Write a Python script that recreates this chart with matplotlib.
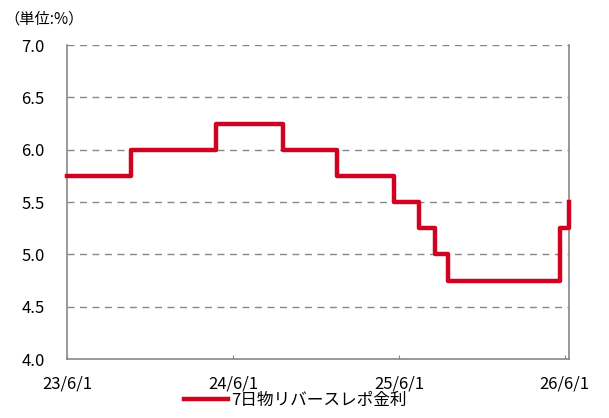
import numpy as np
import matplotlib.pyplot as plt
import matplotlib.dates as mdates
from matplotlib.ticker import FuncFormatter

plt.rcParams['font.family'] = ['Noto Sans CJK JP', 'DejaVu Sans']

# 政策金利の変更日と水準
change_dates = ['2023-06-01', '2023-10-19', '2024-04-24', '2024-09-18', '2025-01-15',
                '2025-05-21', '2025-07-16', '2025-08-20', '2025-09-17', '2026-05-21',
                '2026-06-10']
rates = [5.75, 6.00, 6.25, 6.00, 5.75, 5.50, 5.25, 5.00, 4.75, 5.25, 5.50]
end_date = '2026-06-10'

xtick_dates = ['2023-06-01', '2024-06-01', '2025-06-01', '2026-06-01']
yticks = [4.0, 4.5, 5.0, 5.5, 6.0, 6.5, 7.0]
series_name = '7日物リバースレポ金利'

dates = np.array(change_dates + [end_date], dtype='datetime64[D]')
vals = rates + [rates[-1]]

fig = plt.figure(figsize=(6.09, 4.18), dpi=100)
ax = fig.add_axes([0.110, 0.141, 0.824, 0.751])

ax.step(dates, vals, where='post', color='#D0021F', lw=3.2,
        solid_joinstyle='round', label=series_name, clip_on=False, zorder=3)

ax.set_ylim(4.0, 7.0)
ax.set_yticks(yticks)
ax.yaxis.set_major_formatter(FuncFormatter(lambda v, p: '%.1f' % v))
ax.set_xlim(np.datetime64(xtick_dates[0]), np.datetime64(end_date))
ax.set_xticks(np.array(xtick_dates, dtype='datetime64[D]'))
ax.xaxis.set_major_formatter(FuncFormatter(
    lambda v, p: '%d/%d/%d' % (mdates.num2date(v).year % 100,
                               mdates.num2date(v).month, mdates.num2date(v).day)))

for y in yticks[1:]:
    ax.axhline(y, color='#888888', lw=1.0, ls=(0, (5, 4)), zorder=0)

ax.spines['top'].set_visible(False)
for s in ['left', 'right', 'bottom']:
    ax.spines[s].set_color('#888888')
    ax.spines[s].set_linewidth(1.2)

ax.tick_params(axis='y', length=0, pad=16, labelsize=12)
ax.tick_params(axis='x', direction='in', length=3, color='#888888',
               pad=12, labelsize=12)

fig.text(0.008, 0.955, '（単位:%）', fontsize=11, va='center', ha='left')

fig.legend(loc='lower center', bbox_to_anchor=(0.485, -0.015), frameon=False,
           fontsize=12, handlelength=2.6, handletextpad=0.2)

fig.savefig('out.png', dpi=100)
plt.close()
